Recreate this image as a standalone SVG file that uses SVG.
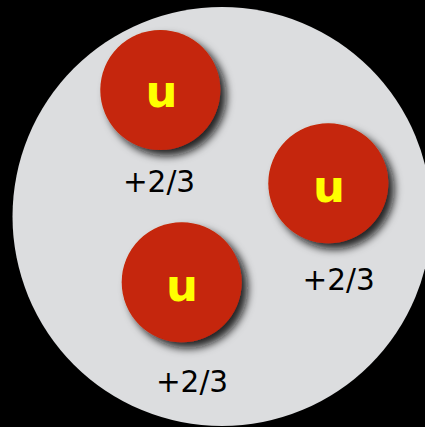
<svg xmlns="http://www.w3.org/2000/svg" width="425" height="427" viewBox="0 0 425 427">
  <defs>
    <filter id="shadow" x="-30%" y="-30%" width="160%" height="160%">
      <feDropShadow dx="6" dy="6" stdDeviation="4" flood-color="#111111" flood-opacity="0.9"/>
    </filter>
  </defs>
  <style>
    .quark { fill: #C52607; filter: url(#shadow); }
    .flavor { font-family: "DejaVu Sans", sans-serif; font-weight: bold; font-size: 45px; fill: #FFFF00; text-anchor: middle; }
    .charge { font-family: "DejaVu Sans", sans-serif; font-size: 29.5px; fill: #000000; text-anchor: middle; }
  </style>
  <rect x="0" y="0" width="425" height="427" fill="#000000"/>
  <circle id="proton" cx="222" cy="216.5" r="209.5" fill="#DCDDDF"/>
  <g id="connectors"></g>
  <g id="quark1">
    <circle class="quark" cx="160.3" cy="90" r="60"/>
    <text class="flavor" x="161.5" y="107">u</text>
  </g>
  <text id="charge1" class="charge" x="159" y="191.5">+2/3</text>
  <g id="quark2">
    <circle class="quark" cx="328.3" cy="183.3" r="60"/>
    <text class="flavor" x="329" y="202">u</text>
  </g>
  <text id="charge2" class="charge" x="338.7" y="290">+2/3</text>
  <g id="quark3">
    <circle class="quark" cx="181.7" cy="282.3" r="60"/>
    <text class="flavor" x="182" y="300.5">u</text>
  </g>
  <text id="charge3" class="charge" x="192" y="391.5">+2/3</text>
</svg>
